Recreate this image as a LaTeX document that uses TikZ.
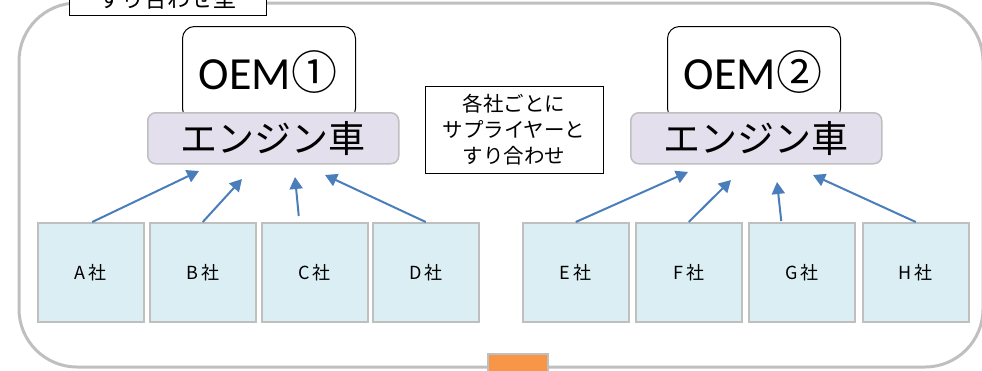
\documentclass[tikz,border=0pt]{standalone}
\usepackage{fontspec}
\setmainfont{Noto Sans CJK JP}
\newfontfamily\latinf{Carlito}
\usetikzlibrary{arrows.meta}
\definecolor{grayline}{HTML}{BFBFBF}
\definecolor{lav}{HTML}{E4DFEC}
\definecolor{lblue}{HTML}{DAEEF3}
\definecolor{arrowblue}{HTML}{4A7EBB}
\definecolor{orng}{HTML}{F79646}
\begin{document}
\begin{tikzpicture}[x=1pt,y=-1pt,
  supp/.style={draw=grayline, line width=1.5pt, fill=lblue, minimum width=106pt, minimum height=99pt, inner sep=0pt, anchor=north west, font=\fontsize{18}{20}\selectfont},
  oem/.style={draw=black, line width=1pt, fill=white, rounded corners=12pt, minimum width=173pt, minimum height=94pt, inner sep=0pt, anchor=north west},
  eng/.style={draw=grayline, line width=1.5pt, fill=lav, rounded corners=8pt, minimum width=251pt, minimum height=51pt, inner sep=0pt, anchor=north west, font=\fontsize{37}{40}\selectfont},
  arr/.style={draw=arrowblue, line width=2pt, -{Triangle[length=12pt,width=13pt]}},
]
\useasboundingbox (0,0) rectangle (982,370);
\clip (0,0) rectangle (982,370);
% outer frame
\draw[grayline, line width=3pt, rounded corners=58pt] (19,3) rectangle (983,367);
% title label (cut off at top)
\node[draw=black, line width=1pt, fill=white, minimum width=197pt, minimum height=32pt, inner sep=0pt, font=\fontsize{23}{25}\selectfont] (title) at (167.5,-1) {すり合わせ型};
% OEM boxes
\node[oem] (oem1) at (182,26) {};
\node[font=\fontsize{46}{48}\selectfont] (oem1t) at (268,72) {{\latinf OEM}①};
\node[oem] (oem2) at (667,26) {};
\node[font=\fontsize{46}{48}\selectfont] (oem2t) at (753,72) {{\latinf OEM}②};
\node[eng] (eng1) at (147,112) {エンジン車};
\node[eng] (eng2) at (630,112) {エンジン車};
% middle note
\node[draw=black, line width=1pt, fill=white, minimum width=178pt, minimum height=87pt, inner sep=0pt, align=center, font=\fontsize{20.5}{26}\selectfont] (note) at (514,129.5) {各社ごとに\\サプライヤーと\\すり合わせ};
% suppliers
\node[supp] (A) at (37,222) {A\,社};
\node[supp] (B) at (149,222) {B\,社};
\node[supp] (C) at (261,222) {C\,社};
\node[supp] (D) at (372,222) {D\,社};
\node[supp] (E) at (522,222) {E\,社};
\node[supp] (F) at (635,222) {F\,社};
\node[supp] (G) at (748,222) {G\,社};
\node[supp] (H) at (862,222) {H\,社};
% arrow tips
\coordinate (tA) at (199,171);
\coordinate (tB) at (242,179);
\coordinate (tC) at (295,177);
\coordinate (tD) at (325,175);
\coordinate (tE) at (688,172);
\coordinate (tF) at (731,180);
\coordinate (tG) at (777,182);
\coordinate (tH) at (813,175);
\draw[arr] ([xshift=1.5pt]A.north) -- (tA);
\draw[arr] (B.north) -- (tB);
\draw[arr] ([xshift=-16pt,yshift=6pt]C.north) -- (tC);
\draw[arr] (D.north) -- (tD);
\draw[arr] (E.north) -- (tE);
\draw[arr] (F.north) -- (tF);
\draw[arr] ([xshift=-20.5pt,yshift=1pt]G.north) -- (tG);
\draw[arr] (H.north) -- (tH);
% orange block at bottom
\node[draw=grayline, line width=1.5pt, fill=orng, minimum width=60pt, minimum height=40pt, inner sep=0pt, anchor=north west] (org) at (487,353) {};
\end{tikzpicture}
\end{document}
